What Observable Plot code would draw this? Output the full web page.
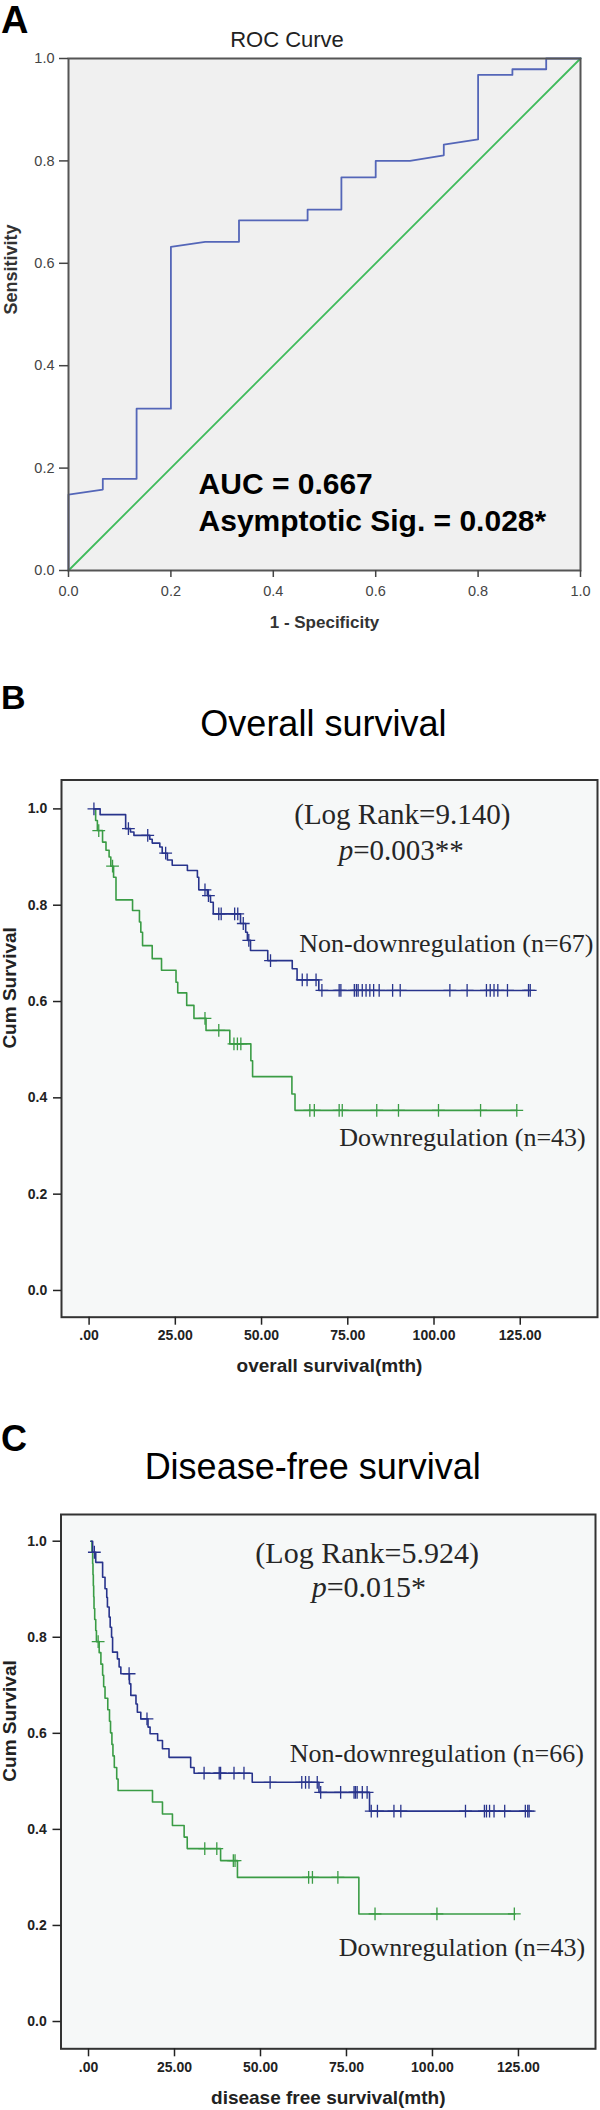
<!DOCTYPE html>
<html>
<head>
<meta charset="utf-8">
<script src="https://cdn.jsdelivr.net/npm/d3@7"></script>
<script src="https://cdn.jsdelivr.net/npm/@observablehq/plot@0.6"></script>
<style>
  body { margin: 0; background: #fff; }
  #page { position: relative; width: 600px; height: 2110px; overflow: hidden; font-family: "Liberation Sans", Arial, sans-serif; }
  .panel { position: absolute; left: 0; }
  .lbl { position: absolute; line-height: 1; white-space: nowrap; color: #000; margin: 0; }
  .ctr { transform: translateX(-50%); }
</style>
</head>
<body>
<div id="page">
  <div class="lbl" style="left:1px;top:1px;font-size:38px;font-weight:bold;">A</div>
  <div class="lbl ctr" style="left:287px;top:29.4px;font-size:22px;color:#222;">ROC Curve</div>
  <div class="lbl" style="left:1px;top:679.5px;font-size:34px;font-weight:bold;">B</div>
  <div class="lbl ctr" style="left:323.4px;top:706.2px;font-size:36px;">Overall survival</div>
  <div class="lbl" style="left:1px;top:1421.2px;font-size:36px;font-weight:bold;">C</div>
  <div class="lbl ctr" style="left:312.7px;top:1448.8px;font-size:36px;">Disease-free survival</div>
</div>
<script>
// ---------------- DATA ----------------
// Panel A: ROC curve (1 - specificity, sensitivity)
const rocFPR = [0, 0, 0.067, 0.067, 0.133, 0.133, 0.2, 0.2, 0.267, 0.333, 0.333, 0.467, 0.467, 0.533, 0.533, 0.6, 0.6, 0.667, 0.733, 0.733, 0.8, 0.8, 0.867, 0.867, 0.933, 0.933, 1];
const rocTPR = [0, 0.148, 0.158, 0.179, 0.179, 0.316, 0.316, 0.632, 0.642, 0.642, 0.684, 0.684, 0.705, 0.705, 0.768, 0.768, 0.8, 0.8, 0.811, 0.832, 0.842, 0.968, 0.968, 0.979, 0.979, 1, 1];
const refFPR = [0, 1];
const refTPR = [0, 1];
const rocTicks = [0, 0.2, 0.4, 0.6, 0.8, 1.0];

// Panel B: overall survival (months, cumulative survival)
const osNonT = [1.4, 3.2, 10.6, 12.0, 13.0, 17.6, 18.3, 20.5, 21.2, 22.7, 24.1, 28.5, 31.4, 31.8, 34.3, 35.2, 36.0, 43.9, 45.4, 45.9, 46.8, 51.8, 58.9, 60.3, 66.6, 127.9];
const osNonS = [1.0, 0.988, 0.959, 0.952, 0.945, 0.937, 0.929, 0.921, 0.908, 0.894, 0.883, 0.872, 0.858, 0.832, 0.820, 0.806, 0.782, 0.762, 0.744, 0.727, 0.706, 0.685, 0.668, 0.645, 0.623, 0.623];
const osNonCensor = [1.4, 11.4, 17.0, 22.2, 33.6, 34.6, 37.6, 38.3, 42.2, 43.1, 44.7, 46.3, 52.6, 61.8, 63.2, 65.8, 67.5, 72.5, 73.0, 76.9, 77.5, 78.0, 79.2, 80.3, 81.4, 82.5, 84.1, 88.0, 90.2, 104.6, 109.6, 115.2, 116.3, 117.4, 118.5, 121.3, 127.4, 127.9];
const osDownT = [1.4, 1.9, 2.4, 3.9, 4.9, 5.8, 6.3, 7.1, 7.8, 12.6, 14.6, 15.0, 15.5, 18.3, 21.0, 25.2, 25.7, 28.3, 30.4, 33.9, 40.8, 46.9, 47.4, 58.8, 59.7, 124.0];
const osDownS = [1.0, 0.976, 0.955, 0.931, 0.914, 0.900, 0.881, 0.858, 0.811, 0.789, 0.765, 0.744, 0.716, 0.689, 0.665, 0.640, 0.618, 0.592, 0.565, 0.540, 0.512, 0.477, 0.444, 0.408, 0.374, 0.374];
const osDownCensor = [2.8, 6.8, 33.6, 37.6, 42.0, 43.0, 44.0, 64.0, 65.3, 72.5, 73.4, 83.4, 89.7, 101.3, 113.5, 124.0];

// Panel C: disease-free survival
const dfsNonT = [0.7, 1.2, 2.1, 4.1, 4.8, 5.3, 5.5, 6.0, 6.3, 6.7, 7.0, 8.4, 8.9, 9.4, 11.9, 12.3, 13.8, 14.2, 15.2, 17.3, 17.9, 20.1, 21.5, 23.4, 29.7, 30.7, 47.6, 67.0, 81.7, 128.1];
const dfsNonS = [1.0, 0.977, 0.956, 0.925, 0.901, 0.883, 0.863, 0.842, 0.821, 0.800, 0.769, 0.755, 0.738, 0.724, 0.703, 0.679, 0.661, 0.644, 0.630, 0.613, 0.599, 0.585, 0.568, 0.550, 0.529, 0.517, 0.498, 0.477, 0.438, 0.438];
const dfsNonCensor = [1.7, 11.8, 17.0, 33.6, 38.0, 38.4, 42.3, 45.2, 52.8, 62.0, 63.1, 64.1, 66.5, 67.5, 73.3, 77.2, 77.6, 78.1, 79.6, 81.0, 82.2, 84.0, 88.8, 90.8, 109.6, 115.1, 115.7, 116.6, 117.9, 121.0, 127.0, 127.7, 128.1];
const dfsDownT = [0.7, 1.0, 1.2, 1.3, 1.4, 1.5, 1.6, 1.8, 2.1, 2.3, 3.1, 3.6, 4.1, 4.4, 4.8, 5.6, 6.1, 6.4, 6.8, 7.1, 7.5, 8.2, 8.6, 18.6, 21.5, 24.4, 27.8, 28.7, 38.4, 43.3, 78.6, 124.0];
const dfsDownS = [1.0, 0.977, 0.953, 0.930, 0.907, 0.884, 0.860, 0.837, 0.814, 0.791, 0.768, 0.744, 0.721, 0.697, 0.673, 0.649, 0.625, 0.601, 0.577, 0.553, 0.529, 0.505, 0.481, 0.457, 0.432, 0.408, 0.384, 0.360, 0.335, 0.300, 0.224, 0.224];
const dfsDownCensor = [2.8, 33.8, 37.3, 42.1, 42.6, 64.0, 65.1, 72.5, 83.3, 101.3, 123.8];

const kmXTicks = [0, 25, 50, 75, 100, 125];
const kmXLabels = [".00", "25.00", "50.00", "75.00", "100.00", "125.00"];
const kmYTicks = [0, 0.2, 0.4, 0.6, 0.8, 1.0];

// ---------------- HELPERS ----------------
const SANS = '"Liberation Sans", Arial, sans-serif';
const SERIF = '"Liberation Serif", "Times New Roman", serif';
const KM_BLUE = "#28348c";
const KM_GREEN = "#3a9c45";
const ROC_BLUE = "#5466b8";
const ROC_GREEN = "#3fbb5b";
const NOTE = "#262626";
const SVGNS = "http://www.w3.org/2000/svg";

const rows = (T, S) => T.map((t, i) => ({t, s: S[i]}));
function survAt(T, S, t) { let v = S[0]; for (let i = 0; i < T.length; i++) if (T[i] <= t) v = S[i]; return v; }
const censorRows = (C, T, S) => C.map(t => ({t, s: survAt(T, S, t)}));
const kmFmt = d => kmXLabels[kmXTicks.indexOf(d)];

const page = document.getElementById("page");
function place(svg, top) {
  svg.classList.add("panel");
  svg.style.top = top + "px";
  page.appendChild(svg);
}
// italicise the leading "p" of the p-value line
function italicP(svg) {
  svg.querySelectorAll("text").forEach(t => {
    if (t.children.length === 0 && /^p=/.test(t.textContent)) {
      const rest = t.textContent.slice(1);
      t.textContent = "";
      const a = document.createElementNS(SVGNS, "tspan");
      a.setAttribute("font-style", "italic");
      a.textContent = "p";
      const b = document.createElementNS(SVGNS, "tspan");
      b.textContent = rest;
      t.appendChild(a); t.appendChild(b);
    }
  });
}

// ---------------- PANEL A ----------------
const rocRows = rocFPR.map((x, i) => ({x, y: rocTPR[i]}));
const refRows = refFPR.map((x, i) => ({x, y: refTPR[i]}));
const chartA = Plot.plot({
  width: 600, height: 640,
  marginLeft: 68, marginRight: 20, marginTop: 58, marginBottom: 70,
  x: {domain: [0, 1]},
  y: {domain: [0, 1]},
  style: {fontFamily: SANS, fontSize: "14.5px", color: "#444", background: "transparent", overflow: "visible"},
  marks: [
    Plot.frame({fill: "#f0f0f0", stroke: "none"}),
    Plot.line(refRows, {x: "x", y: "y", stroke: ROC_GREEN, strokeWidth: 1.8}),
    Plot.line(rocRows, {x: "x", y: "y", stroke: ROC_BLUE, strokeWidth: 1.8}),
    Plot.frame({stroke: "#555", strokeWidth: 2}),
    Plot.axisX({ticks: rocTicks, tickFormat: d3.format(".1f"), tickSize: 7, tickPadding: 8, strokeWidth: 1.5, label: null}),
    Plot.axisY({ticks: rocTicks, tickFormat: d3.format(".1f"), tickSize: 9, tickPadding: 5, strokeWidth: 1.5, label: null}),
    Plot.text(["1 - Specificity"], {text: d => d, frameAnchor: "bottom", lineAnchor: "bottom", dy: 57.7, fontWeight: "bold", fontSize: 17, fill: "#333"}),
    Plot.text(["Sensitivity"], {text: d => d, frameAnchor: "left", rotate: -90, dx: -57, fontWeight: "bold", fontSize: 18, fill: "#333"}),
    Plot.text(["AUC = 0.667"], {text: d => d, x: 0.254, y: 0.150, textAnchor: "start", lineAnchor: "bottom", fontWeight: "bold", fontSize: 30, fill: "#000"}),
    Plot.text(["Asymptotic Sig. = 0.028*"], {text: d => d, x: 0.254, y: 0.078, textAnchor: "start", lineAnchor: "bottom", fontWeight: "bold", fontSize: 30, fill: "#000"})
  ]
});
place(chartA, 0);

// ---------------- KM PANELS ----------------
function kmChart(o) {
  const svg = Plot.plot({
    width: 600, height: o.height,
    marginLeft: o.ml, marginRight: o.mr, marginTop: o.mt, marginBottom: o.mb,
    x: {domain: [-8, 147.4]},
    y: {domain: o.yDomain},
    style: {fontFamily: SANS, fontSize: "14px", fontWeight: "bold", color: "#222", background: "transparent", overflow: "visible"},
    marks: [
      Plot.frame({fill: "#f6f8f8", stroke: "none"}),
      Plot.line(rows(o.downT, o.downS), {x: "t", y: "s", curve: "step-after", stroke: KM_GREEN, strokeWidth: 1.6}),
      Plot.line(rows(o.nonT, o.nonS), {x: "t", y: "s", curve: "step-after", stroke: KM_BLUE, strokeWidth: 1.6}),
      Plot.dot(censorRows(o.downC, o.downT, o.downS), {x: "t", y: "s", symbol: "plus", r: 4.2, stroke: KM_GREEN, strokeWidth: 1.3}),
      Plot.dot(censorRows(o.nonC, o.nonT, o.nonS), {x: "t", y: "s", symbol: "plus", r: 4.2, stroke: KM_BLUE, strokeWidth: 1.3}),
      Plot.frame({stroke: "#333", strokeWidth: 2}),
      Plot.axisX({ticks: kmXTicks, tickFormat: kmFmt, tickSize: 8, tickPadding: 5.3, strokeWidth: 1.5, label: null}),
      Plot.axisY({ticks: kmYTicks, tickFormat: d3.format(".1f"), tickSize: 8, tickPadding: 6.3, strokeWidth: 1.5, label: null}),
      Plot.text([o.xTitle], {text: d => d, frameAnchor: "bottom", lineAnchor: "bottom", dy: 55, fontWeight: "bold", fontSize: 19, fill: "#222"}),
      Plot.text(["Cum Survival"], {text: d => d, frameAnchor: "left", rotate: -90, dx: o.yTitleDx, fontWeight: "bold", fontSize: 19, fill: "#222"}),
      Plot.text([o.logRank], {text: d => d, x: o.lrX, y: o.lrY, textAnchor: "middle", lineAnchor: "bottom", fontFamily: SERIF, fontWeight: "normal", fontSize: o.noteSize, fill: NOTE}),
      Plot.text([o.pText], {text: d => d, x: o.pX, y: o.pY, textAnchor: "middle", lineAnchor: "bottom", fontFamily: SERIF, fontWeight: "normal", fontSize: o.noteSize, fill: NOTE}),
      Plot.text([o.nonLabel], {text: d => d, x: o.nonLX, y: o.nonLY, textAnchor: "end", lineAnchor: "bottom", fontFamily: SERIF, fontWeight: "normal", fontSize: 26, fill: NOTE}),
      Plot.text([o.downLabel], {text: d => d, x: o.downLX, y: o.downLY, textAnchor: "end", lineAnchor: "bottom", fontFamily: SERIF, fontWeight: "normal", fontSize: 26, fill: NOTE})
    ]
  });
  italicP(svg);
  return svg;
}

const chartB = kmChart({
  height: 720, ml: 61, mr: 3, mt: 119.5, mb: 63.3,
  yDomain: [-0.0555, 1.06], noteSize: 29,
  nonT: osNonT, nonS: osNonS, nonC: osNonCensor,
  downT: osDownT, downS: osDownS, downC: osDownCensor,
  xTitle: "overall survival(mth)", yTitleDx: -51.5,
  logRank: "(Log Rank=9.140)", lrX: 90.8, lrY: 0.9678,
  pText: "p=0.003**", pX: 90.5, pY: 0.8933,
  nonLabel: "Non-downregulation (n=67)", nonLX: 146.2, nonLY: 0.7026,
  downLabel: "Downregulation (n=43)", downLX: 144.0, downLY: 0.301
});
place(chartB, 660);

const chartC = kmChart({
  height: 730, ml: 60.5, mr: 5, mt: 134, mb: 61.7,
  yDomain: [-0.0568, 1.0556], noteSize: 30,
  nonT: dfsNonT, nonS: dfsNonS, nonC: dfsNonCensor,
  downT: dfsDownT, downS: dfsDownS, downC: dfsDownCensor,
  xTitle: "disease free survival(mth)", yTitleDx: -51,
  logRank: "(Log Rank=5.924)", lrX: 81.0, lrY: 0.954,
  pText: "p=0.015*", pX: 81.5, pY: 0.883,
  nonLabel: "Non-downregulation (n=66)", nonLX: 144.0, nonLY: 0.540,
  downLabel: "Downregulation (n=43)", downLX: 144.4, downLY: 0.137
});
place(chartC, 1380);
</script>
</body>
</html>
